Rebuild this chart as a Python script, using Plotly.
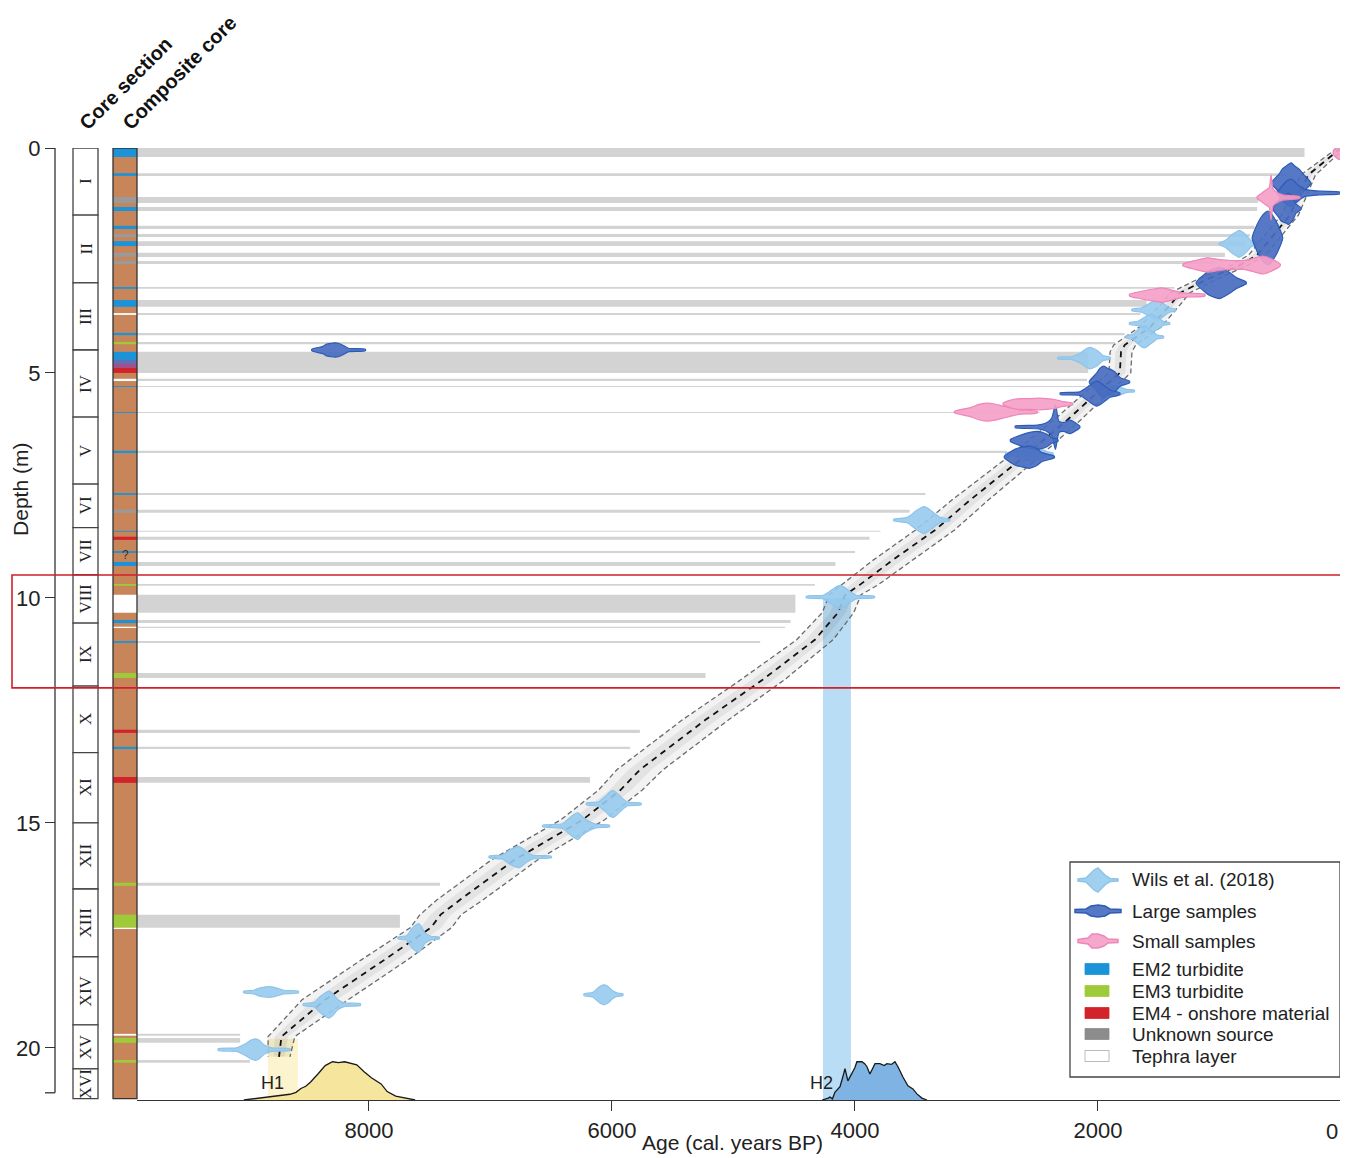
import plotly.graph_objects as go

# ---------------- DATA ----------------
# Age-depth model (median), depth in m, age in cal. yr BP, half-width of envelope in yr
MODEL_DEPTH = [0, 0.6, 1.49, 2.38, 2.6, 2.89, 3.22, 3.44, 3.98, 4.38, 4.53, 5.0, 5.38, 6.04, 6.93,
               7.82, 8.49, 9.16, 9.71, 9.93, 10.33, 10.93, 11.82, 12.71, 13.82, 14.27, 14.93,
               15.82, 16.71, 17.04, 17.33, 18.04, 18.93, 19.75, 20.2]
MODEL_AGE = [0, 270, 420, 690, 830, 1080, 1325, 1390, 1570, 1780, 1810, 1820, 1984, 2250, 2640,
             3050, 3340, 3690, 3960, 4080, 4140, 4330, 4760, 5230, 5770, 5930, 6240,
             6800, 7250, 7410, 7490, 7870, 8360, 8720, 8740]
MODEL_HALFWIDTH = [30, 60, 70, 70, 70, 80, 80, 80, 90, 90, 90, 90, 100, 110, 130,
                   150, 160, 160, 150, 130, 130, 150, 180, 190, 190, 180, 180,
                   190, 190, 170, 170, 190, 190, 110, 90]

# Calibrated age distributions: depth, ages, half-heights (m)
WILS_DEPTH = [2.13, 3.6, 3.9, 4.2, 4.67, 5.4, 6.8, 8.27, 9.98, 14.58, 15.07, 15.76, 17.56, 19.04, 20.04, 18.76, 18.82]
WILS_AGES = [
    [1000, 950, 900, 860, 835, 800, 770, 735, 680],
    [1720, 1640, 1580, 1540, 1510, 1480, 1440, 1410, 1360],
    [1740, 1670, 1620, 1590, 1560, 1530, 1490, 1460, 1410],
    [1770, 1710, 1670, 1640, 1610, 1580, 1540, 1510, 1460],
    [2330, 2220, 2140, 2100, 2070, 2040, 2000, 1960, 1900],
    [2010, 1960, 1920, 1890, 1860, 1830, 1790, 1760, 1700],
    [2760, 2680, 2610, 2570, 2530, 2500, 2460, 2420, 2370],
    [3680, 3570, 3500, 3460, 3430, 3400, 3350, 3300, 3220],
    [4400, 4260, 4190, 4150, 4120, 4090, 4040, 3990, 3840],
    [6210, 6110, 6050, 6020, 5990, 5960, 5920, 5870, 5760],
    [6570, 6410, 6350, 6310, 6280, 6250, 6200, 6130, 6020],
    [7010, 6900, 6840, 6800, 6770, 6740, 6700, 6650, 6500],
    [7760, 7690, 7650, 7620, 7590, 7570, 7540, 7490, 7420],
    [8540, 8450, 8400, 8360, 8330, 8300, 8260, 8200, 8070],
    [9240, 9090, 9010, 8970, 8930, 8900, 8860, 8800, 8650],
    [9030, 8950, 8900, 8860, 8820, 8790, 8750, 8700, 8580],
    [6230, 6160, 6120, 6090, 6060, 6030, 6000, 5960, 5910],
]
WILS_HW = [
    [0.02, 0.08, 0.2, 0.27, 0.3, 0.24, 0.16, 0.06, 0.02],
    [0.02, 0.05, 0.14, 0.2, 0.22, 0.18, 0.1, 0.05, 0.02],
    [0.02, 0.05, 0.13, 0.18, 0.2, 0.16, 0.1, 0.04, 0.02],
    [0.02, 0.06, 0.16, 0.22, 0.24, 0.18, 0.1, 0.04, 0.02],
    [0.02, 0.03, 0.12, 0.2, 0.24, 0.22, 0.16, 0.06, 0.02],
    [0.02, 0.04, 0.08, 0.11, 0.12, 0.1, 0.06, 0.03, 0.02],
    [0.02, 0.05, 0.12, 0.15, 0.16, 0.14, 0.1, 0.05, 0.02],
    [0.02, 0.06, 0.2, 0.27, 0.3, 0.26, 0.16, 0.06, 0.02],
    [0.02, 0.04, 0.16, 0.23, 0.26, 0.22, 0.12, 0.04, 0.02],
    [0.02, 0.05, 0.18, 0.26, 0.3, 0.24, 0.14, 0.04, 0.02],
    [0.02, 0.05, 0.18, 0.26, 0.3, 0.22, 0.12, 0.04, 0.02],
    [0.02, 0.05, 0.16, 0.21, 0.24, 0.2, 0.11, 0.04, 0.02],
    [0.02, 0.05, 0.2, 0.28, 0.32, 0.26, 0.12, 0.04, 0.02],
    [0.02, 0.05, 0.18, 0.26, 0.3, 0.25, 0.12, 0.04, 0.02],
    [0.02, 0.04, 0.14, 0.21, 0.24, 0.2, 0.1, 0.04, 0.02],
    [0.02, 0.04, 0.09, 0.11, 0.12, 0.11, 0.08, 0.04, 0.02],
    [0.02, 0.05, 0.14, 0.2, 0.22, 0.18, 0.1, 0.04, 0.02],
]

LARGE_DEPTH = [4.49, 0.78, 1.0, 1.35, 2.0, 3.0, 5.2, 5.46, 6.2, 6.5, 6.87]
LARGE_AGES = [
    [8470, 8380, 8350, 8310, 8280, 8250, 8210, 8170, 8030],
    [570, 510, 480, 440, 410, 380, 340, 310, 250],
    [520, 470, 440, 400, 370, 340, 300, 160, 10],
    [560, 510, 490, 450, 430, 410, 390, 370, 330],
    [730, 690, 660, 630, 600, 575, 550, 520, 480],
    [1190, 1120, 1080, 1040, 1000, 960, 910, 860, 780],
    [2070, 2010, 1985, 1950, 1920, 1895, 1860, 1820, 1740],
    [2310, 2150, 2080, 2040, 2010, 1980, 1940, 1900, 1820],
    [2680, 2500, 2420, 2380, 2350, 2320, 2280, 2230, 2150],
    [2720, 2600, 2540, 2500, 2460, 2430, 2400, 2380, 2330],
    [2770, 2680, 2640, 2600, 2570, 2540, 2500, 2460, 2360],
]
LARGE_HW = [
    [0.02, 0.08, 0.13, 0.15, 0.16, 0.15, 0.1, 0.04, 0.02],
    [0.02, 0.2, 0.32, 0.4, 0.45, 0.38, 0.3, 0.2, 0.02],
    [0.02, 0.2, 0.28, 0.3, 0.22, 0.15, 0.08, 0.04, 0.02],
    [0.02, 0.2, 0.28, 0.32, 0.35, 0.3, 0.22, 0.1, 0.02],
    [0.02, 0.3, 0.45, 0.55, 0.6, 0.55, 0.45, 0.3, 0.02],
    [0.02, 0.2, 0.28, 0.32, 0.35, 0.3, 0.22, 0.12, 0.02],
    [0.02, 0.2, 0.3, 0.35, 0.3, 0.28, 0.22, 0.1, 0.02],
    [0.02, 0.04, 0.16, 0.24, 0.28, 0.24, 0.16, 0.08, 0.02],
    [0.02, 0.04, 0.1, 0.2, 0.5, 0.12, 0.1, 0.15, 0.02],
    [0.02, 0.15, 0.19, 0.2, 0.18, 0.15, 0.1, 0.06, 0.02],
    [0.02, 0.18, 0.21, 0.23, 0.25, 0.23, 0.18, 0.1, 0.02],
]

SMALL_DEPTH = [1.1, 2.6, 3.27, 5.69, 5.87, 0.1]
SMALL_AGES = [
    [690, 640, 610, 590, 575, 560, 545, 480, 340],
    [1300, 1200, 1100, 1000, 900, 800, 720, 640, 560, 500],
    [1740, 1650, 1580, 1530, 1480, 1430, 1380, 1300, 1120],
    [2780, 2700, 2640, 2560, 2480, 2420, 2360, 2300, 2210],
    [3180, 3050, 2980, 2920, 2850, 2790, 2730, 2650, 2500],
    [60, 20, -20, -50],
]
SMALL_HW = [
    [0.02, 0.12, 0.18, 0.22, 0.5, 0.2, 0.15, 0.06, 0.02],
    [0.02, 0.1, 0.16, 0.12, 0.1, 0.1, 0.15, 0.2, 0.12, 0.02],
    [0.02, 0.08, 0.12, 0.14, 0.16, 0.14, 0.1, 0.05, 0.02],
    [0.02, 0.1, 0.12, 0.12, 0.13, 0.12, 0.1, 0.06, 0.02],
    [0.02, 0.1, 0.17, 0.2, 0.18, 0.14, 0.1, 0.05, 0.02],
    [0.05, 0.15, 0.15, 0.05],
]

# Event-layer horizontal bars: top depth, bottom depth, end age
BAR_TOP = [0, 0.56, 1.09, 1.31, 1.73, 1.91, 2.07, 2.33, 2.51, 3.09, 3.38, 3.67, 4.11, 4.31, 4.53,
           5.13, 5.29, 5.87, 6.73, 7.67, 8.04, 8.51, 8.64, 8.96, 9.2, 9.69, 9.93, 10.49, 10.64,
           10.96, 11.67, 12.93, 13.31, 13.98, 16.33, 17.04, 19.69, 19.78, 20.27]
BAR_BOTTOM = [0.2, 0.62, 1.22, 1.4, 1.8, 1.98, 2.18, 2.42, 2.58, 3.13, 3.53, 3.71, 4.16, 4.36, 5.0,
              5.18, 5.31, 5.89, 6.78, 7.71, 8.11, 8.53, 8.71, 9.0, 9.29, 9.73, 10.33, 10.56, 10.67,
              11.0, 11.78, 13.0, 13.36, 14.11, 16.4, 17.33, 19.73, 19.89, 20.33]
BAR_END_AGE = [300, 450, 680, 690, 710, 750, 790, 955, 1040, 1370, 1600, 1650, 1780, 1860, 2080,
               2090, 2100, 2480, 2750, 3420, 3550, 3790, 3880, 4000, 4160, 4330, 4490, 4530, 4575,
               4780, 5230, 5770, 5850, 6180, 7415, 7745, 9060, 9060, 8980]

# Composite core layers: top, bottom, type
LAYER_TOP = [0, 0.56, 1.31, 1.73, 2.07, 3.09, 3.38, 4.11, 4.53, 5.29, 5.87, 6.73, 7.67, 8.51, 8.96, 9.2,
             10.49, 10.96, 13.31,
             1.09, 1.91, 2.33, 2.51, 8.04,
             4.71, 4.80, 4.89,
             4.31, 9.69, 11.67, 16.33, 17.04, 19.78, 20.27,
             8.64, 12.93, 13.98,
             3.67, 5.13, 9.93, 10.64, 17.33, 19.69]
LAYER_BOTTOM = [0.2, 0.62, 1.4, 1.8, 2.18, 3.13, 3.53, 4.16, 4.71, 5.31, 5.89, 6.78, 7.71, 8.53, 9.0, 9.29,
                10.56, 11.0, 13.36,
                1.22, 1.98, 2.42, 2.58, 8.11,
                4.80, 4.89, 5.0,
                4.36, 9.73, 11.78, 16.4, 17.33, 19.89, 20.33,
                8.71, 13.0, 14.11,
                3.71, 5.18, 10.33, 10.67, 17.36, 19.73]
LAYER_TYPE = ["EM2"] * 19 + ["UNK"] * 5 + ["MIX1", "MIX2", "EM4"] + ["EM3"] * 7 + ["EM4"] * 3 + ["TEPHRA"] * 6

# Core sections
SECTION_LABELS = ["I", "II", "III", "IV", "V", "VI", "VII", "VIII", "IX", "X", "XI", "XII", "XIII", "XIV", "XV", "XVI"]
SECTION_BOUNDS = [0, 1.49, 3.0, 4.49, 5.98, 7.47, 8.44, 9.49, 10.56, 11.96, 13.44, 15.0, 16.47, 17.98, 19.49, 20.47, 21.13]

# Summed probability at the bottom (H1, H2)
H1_AGE = [9030, 8900, 8750, 8650, 8600, 8560, 8520, 8480, 8420, 8360, 8300, 8250, 8200, 8150, 8100,
          8040, 7980, 7900, 7850, 7780, 7680, 7620]
H1_DENS = [0, 0.05, 0.1, 0.15, 0.2, 0.3, 0.36, 0.47, 0.68, 0.9, 1.0, 0.98, 1.0, 0.97, 0.92,
           0.74, 0.58, 0.42, 0.22, 0.1, 0.03, 0]
H2_AGE = [4270, 4247, 4220, 4206, 4185, 4165, 4123, 4100, 4082, 4058, 4025, 4000, 3984, 3942, 3920,
          3901, 3877, 3835, 3794, 3760, 3737, 3700, 3671, 3646, 3605, 3564, 3523, 3490, 3449, 3407]
H2_DENS = [0, 0.02, 0.05, 0.08, 0.03, 0.2, 0.35, 0.6, 0.82, 0.5, 0.68, 0.85, 1.0, 1.0, 0.95,
           0.87, 0.68, 0.95, 0.95, 0.9, 0.95, 0.93, 1.0, 0.87, 0.6, 0.37, 0.29, 0.16, 0.05, 0]
H1_BAND = [8831, 8584, 19.8]   # age old, age young, top depth
H2_BAND = [4263, 4033, 10.0]

X_TICKS = [8000, 6000, 4000, 2000, 0]
X_TICK_TEXT = ["8000", "6000", "4000", "2000", ""]
Y_TICKS = [0, 5, 10, 15, 20]

LEGEND_LABELS = ["Wils et al. (2018)", "Large samples", "Small samples", "EM2 turbidite",
                 "EM3 turbidite", "EM4 - onshore material", "Unknown source", "Tephra layer"]

# ---------------- LAYOUT HELPERS ----------------
OFF = 8                      # page body margin
PAGE_W, PAGE_H = 1348, 1158
W, H = PAGE_W - OFF, PAGE_H - OFF
PLOT_TOP, PLOT_BOTTOM = 148, 1100   # page pixels
MT = PLOT_TOP - OFF
MB = (H + OFF) - PLOT_BOTTOM
PLOT_H = PLOT_BOTTOM - PLOT_TOP
AGE_LEFT, AGE_RIGHT = 9909, -58
DEPTH_BOTTOM = 21.16
DENS_SCALE = 0.85
FONT = "Arial, Liberation Sans, sans-serif"

def px(xp):
    return (xp - OFF) / W

def py(yp):
    return (PLOT_BOTTOM - yp) / PLOT_H

C_WILS, C_WILS_L = "rgba(150,202,238,0.9)", "#8ec4ea"
C_LARGE, C_LARGE_L = "rgba(72,108,192,0.92)", "#2c5cb6"
C_SMALL, C_SMALL_L = "rgba(244,160,200,0.92)", "#ee86b8"
LAYER_COLORS = {"EM2": "#1b93d8", "EM3": "#9fcb3a", "EM4": "#d2232a", "UNK": "#9a9a9a",
                "TEPHRA": "#ffffff", "MIX1": "#5f6fb8", "MIX2": "#a0508a"}

fig = go.Figure()
shapes = []
annotations = []

def ann(**kw):
    kw.setdefault("xanchor", "center")
    kw.setdefault("yanchor", "middle")
    kw.setdefault("showarrow", False)
    annotations.append(kw)

# grey event bars
for t, b, e in zip(BAR_TOP, BAR_BOTTOM, BAR_END_AGE):
    shapes.append(dict(type="rect", xref="x", yref="y", x0=AGE_LEFT, x1=e, y0=t, y1=b,
                       fillcolor="#d3d3d3", line=dict(width=0), layer="below"))

# H1 / H2 bands
for band, col in [(H1_BAND, "rgba(250,240,190,0.75)"), (H2_BAND, "rgba(160,210,242,0.75)")]:
    shapes.append(dict(type="rect", xref="x", yref="y", x0=band[0], x1=band[1], y0=band[2],
                       y1=DEPTH_BOTTOM, fillcolor=col, line=dict(width=0), layer="below"))

# envelope
old = [a + w for a, w in zip(MODEL_AGE, MODEL_HALFWIDTH)]
young = [a - w for a, w in zip(MODEL_AGE, MODEL_HALFWIDTH)]
old2 = [a + 0.5 * w for a, w in zip(MODEL_AGE, MODEL_HALFWIDTH)]
young2 = [a - 0.5 * w for a, w in zip(MODEL_AGE, MODEL_HALFWIDTH)]
fig.add_trace(go.Scatter(x=old + young[::-1], y=MODEL_DEPTH + MODEL_DEPTH[::-1], fill="toself",
                         fillcolor="rgba(0,0,0,0.05)", line=dict(width=0), mode="lines",
                         hoverinfo="skip", showlegend=False))
fig.add_trace(go.Scatter(x=old2 + young2[::-1], y=MODEL_DEPTH + MODEL_DEPTH[::-1], fill="toself",
                         fillcolor="rgba(0,0,0,0.06)", line=dict(width=0), mode="lines",
                         hoverinfo="skip", showlegend=False))
for bound in (old, young):
    fig.add_trace(go.Scatter(x=bound, y=MODEL_DEPTH, mode="lines",
                             line=dict(color="#6a6a6a", width=1.3, dash="5px,3px"),
                             hoverinfo="skip", showlegend=False))
fig.add_trace(go.Scatter(x=MODEL_AGE, y=MODEL_DEPTH, mode="lines",
                         line=dict(color="#111111", width=1.8, dash="6px,5px"),
                         hoverinfo="skip", showlegend=False))

# distributions
def add_dists(depths, ages, hws, fill, line):
    for d, a, h in zip(depths, ages, hws):
        xs = list(a) + list(a[::-1]) + [a[0]]
        ys = [d - v for v in h] + [d + v for v in h[::-1]] + [d - h[0]]
        fig.add_trace(go.Scatter(x=xs, y=ys, mode="lines", fill="toself", fillcolor=fill,
                                 line=dict(color=line, width=1.2, shape="spline", smoothing=0.6),
                                 hoverinfo="skip", showlegend=False))

add_dists(WILS_DEPTH, WILS_AGES, WILS_HW, C_WILS, C_WILS_L)
add_dists(LARGE_DEPTH, LARGE_AGES, LARGE_HW, C_LARGE, C_LARGE_L)
add_dists(SMALL_DEPTH, SMALL_AGES, SMALL_HW, C_SMALL, C_SMALL_L)

# H1 / H2 densities
for ages, dens, fill in [(H1_AGE, H1_DENS, "#f6e59c"), (H2_AGE, H2_DENS, "#7eb3e3")]:
    fig.add_trace(go.Scatter(x=ages, y=[DEPTH_BOTTOM - v * DENS_SCALE for v in dens], mode="lines",
                             fill="toself", fillcolor=fill, line=dict(color="#1a1a1a", width=1.3),
                             hoverinfo="skip", showlegend=False))
ann(x=H1_BAND[0] - 40, y=20.78, xref="x", yref="y", text="H1",
    font=dict(family=FONT, size=18, color="#222"))
ann(x=H2_BAND[0] + 10, y=20.78, xref="x", yref="y", text="H2",
    font=dict(family=FONT, size=18, color="#222"))

# core sections
for i, lab in enumerate(SECTION_LABELS):
    t, b = SECTION_BOUNDS[i], SECTION_BOUNDS[i + 1]
    shapes.append(dict(type="rect", xref="paper", yref="y", x0=px(73), x1=px(98), y0=t, y1=b,
                       fillcolor="white", line=dict(color="#444", width=1.3)))
    ann(x=px(85.5), y=(t + b) / 2, xref="paper", yref="y", text=lab, textangle=-90,
        font=dict(family="Liberation Serif, Times New Roman, serif", size=17, color="#222"))

# composite core
shapes.append(dict(type="rect", xref="paper", yref="y", x0=px(113), x1=px(137), y0=0,
                   y1=SECTION_BOUNDS[-1], fillcolor="#c8855a", line=dict(width=0)))
for t, b, typ in zip(LAYER_TOP, LAYER_BOTTOM, LAYER_TYPE):
    shapes.append(dict(type="rect", xref="paper", yref="y", x0=px(113), x1=px(137), y0=t, y1=b,
                       fillcolor=LAYER_COLORS[typ], line=dict(width=0)))
shapes.append(dict(type="rect", xref="paper", yref="y", x0=px(113), x1=px(137), y0=0,
                   y1=SECTION_BOUNDS[-1], fillcolor="rgba(0,0,0,0)", line=dict(color="#333", width=1.3)))
ann(x=px(126), y=9.05, xref="paper", yref="y", text="?", font=dict(family=FONT, size=12, color="#333"))

# y axis line
shapes.append(dict(type="line", xref="paper", yref="y", x0=px(55), x1=px(55), y0=0, y1=21.0,
                   line=dict(color="#333", width=1.3)))
shapes.append(dict(type="line", xref="paper", yref="y", x0=px(45), x1=px(55), y0=21.0, y1=21.0,
                   line=dict(color="#333", width=1.3)))

# red rectangle
shapes.append(dict(type="rect", xref="paper", yref="y", x0=px(12), x1=1.0, y0=9.49, y1=12.0,
                   fillcolor="rgba(0,0,0,0)", line=dict(color="#d0202c", width=1.6)))

# headers
ann(x=px(126), y=py(83), xref="paper", yref="paper", text="<b>Core section</b>", textangle=-45,
    font=dict(family=FONT, size=20, color="#111"))
ann(x=px(179), y=py(73), xref="paper", yref="paper", text="<b>Composite core</b>", textangle=-45,
    font=dict(family=FONT, size=20, color="#111"))

# axis titles and edge tick label
ann(x=px(733), y=py(1142), xref="paper", yref="paper", text="Age (cal. years BP)",
    font=dict(family=FONT, size=21, color="#222"))
ann(x=px(21), y=7.6, xref="paper", yref="y", text="Depth (m)", textangle=-90,
    font=dict(family=FONT, size=21, color="#222"))
ann(x=px(1340), y=py(1131), xref="paper", yref="paper", text="0", xanchor="right",
    font=dict(family=FONT, size=22, color="#222"))

# legend
shapes.append(dict(type="rect", xref="paper", yref="paper", x0=px(1070), x1=px(1340), y0=py(862),
                   y1=py(1077), fillcolor="white", line=dict(color="#444", width=1.3)))
leg_y = [880, 911, 941, 969, 991, 1013, 1034, 1056]
for lab, yy in zip(LEGEND_LABELS, leg_y):
    ann(x=px(1130), y=py(yy), xref="paper", yref="paper", text=lab, xanchor="left",
        font=dict(family=FONT, size=19, color="#222"))

def blob_path(cx, cy, prof):
    pts_top = [(cx + dx, cy - h) for dx, h in prof]
    pts_bot = [(cx + dx, cy + h) for dx, h in prof[::-1]]
    pts = pts_top + pts_bot
    return "M " + " L ".join(f"{px(x):.5f},{py(y):.5f}" for x, y in pts) + " Z"

wils_prof = [(-20, 1), (-12, 2), (-8, 6), (-4, 10), (0, 12), (4, 8), (8, 4), (12, 1.5), (20, 1)]
large_prof = [(-23, 1.5), (-12, 2), (-7, 5), (0, 6), (7, 5), (12, 2), (23, 1.5)]
small_prof = [(-20, 1.5), (-10, 3), (-6, 7), (0, 7), (6, 5), (10, 2), (20, 1.5)]
for (prof, cy, fill, line) in [(wils_prof, 880, C_WILS, C_WILS_L), (large_prof, 911, C_LARGE, C_LARGE_L),
                               (small_prof, 941, C_SMALL, C_SMALL_L)]:
    shapes.append(dict(type="path", xref="paper", yref="paper", path=blob_path(1098, cy, prof),
                       fillcolor=fill, line=dict(color=line, width=1.5)))
for typ, yy in zip(["EM2", "EM3", "EM4", "UNK", "TEPHRA"], leg_y[3:]):
    col = LAYER_COLORS[typ] if typ != "UNK" else "#8c8c8c"
    shapes.append(dict(type="rect", xref="paper", yref="paper", x0=px(1085), x1=px(1109),
                       y0=py(yy - 5.5), y1=py(yy + 5.5), fillcolor=col,
                       line=dict(color="#aaa" if typ == "TEPHRA" else col, width=0.8)))

fig.update_layout(
    width=W, height=H,
    margin=dict(l=0, r=0, t=MT, b=MB),
    paper_bgcolor="white", plot_bgcolor="rgba(0,0,0,0)",
    showlegend=False,
    shapes=shapes, annotations=annotations,
    xaxis=dict(domain=[px(137), 1.0], range=[AGE_LEFT, AGE_RIGHT], showgrid=False, zeroline=False,
               showline=True, linecolor="#333", linewidth=1.3, ticks="outside", ticklen=10,
               tickcolor="#333", tickvals=X_TICKS, ticktext=X_TICK_TEXT,
               tickfont=dict(family=FONT, size=22, color="#222")),
    yaxis=dict(range=[DEPTH_BOTTOM, 0], anchor="free", position=px(55), showgrid=False,
               zeroline=False, showline=False, ticks="outside", ticklen=10, tickcolor="#333",
               tickwidth=1.3, tickvals=Y_TICKS, ticktext=[str(v) for v in Y_TICKS],
               tickfont=dict(family=FONT, size=22, color="#222")),
)

fig.write_html("out.html")
